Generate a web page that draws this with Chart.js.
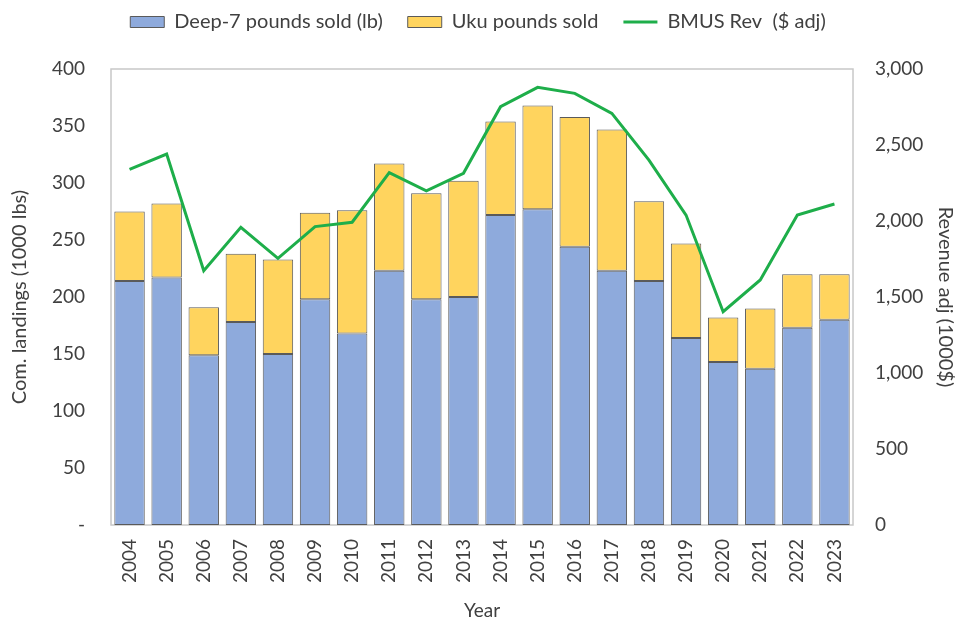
<!DOCTYPE html>
<html>
<head>
<meta charset="utf-8">
<script src="https://cdn.jsdelivr.net/npm/chart.js@4.4.1/dist/chart.umd.min.js"></script>
<style>
  html, body { margin: 0; padding: 0; background: #fff; }
  #wrap { width: 956px; height: 620px; }
</style>
</head>
<body>
<div id="wrap"><canvas id="chart" width="956" height="620"></canvas></div>
<script>
const years = ['2004', '2005', '2006', '2007', '2008', '2009', '2010', '2011', '2012', '2013',
    '2014', '2015', '2016', '2017', '2018', '2019', '2020', '2021', '2022', '2023'];
const deep7Sold = [214, 217, 149, 178, 150, 198, 168, 223, 198, 200, 272, 277, 244, 223, 214, 164, 143, 137, 173, 180];
const ukuSold = [61, 65, 42, 60, 83, 76, 108, 94, 93, 102, 82, 91, 114, 124, 70, 83, 39, 53, 47, 40];
const bmusRev = [2340, 2440, 1673, 1958, 1754, 1963, 1992, 2318, 2199, 2314, 2752, 2879, 2840, 2708, 2401, 2039, 1403, 1612, 2039, 2112];
const leftTicks = [0, 50, 100, 150, 200, 250, 300, 350, 400];
const rightTicks = [0, 500, 1000, 1500, 2000, 2500, 3000];

const txt = '#404040';
const font = 'Lato';

// frame round the plot area, fixed legend height, legend nudged up
const framePlugin = {
    id: 'frame',
    beforeLayout(chart) {
        const lg = chart.legend;
        if (lg && !lg._patched) {
            const fit = lg.fit;
            lg.fit = function () {
                fit.call(this);
                this.height = 69;
            };
            const draw = lg.draw;
            lg.draw = function () {
                this.ctx.save();
                this.ctx.translate(0, -13);
                draw.call(this);
                this.ctx.restore();
            };
            lg._patched = true;
        }
    },
    beforeDatasetsDraw(chart) {
        const a = chart.chartArea;
        const c = chart.ctx;
        c.save();
        c.strokeStyle = '#c8c8c8';
        c.lineWidth = 1.5;
        c.strokeRect(a.left, a.top, a.right - a.left, a.bottom - a.top);
        c.restore();
    }
};

const ctx = document.getElementById('chart').getContext('2d');
new Chart(ctx, {
    type: 'bar',
    data: {
        labels: years,
        datasets: [{
            label: 'Deep-7 pounds sold (lb)',
            data: deep7Sold,
            backgroundColor: '#8eaadc',
            borderColor: '#5a5a5a',
            borderWidth: 1,
            borderSkipped: false,
            pointStyle: 'rect',
            stack: 'lbs',
            yAxisID: 'y'
        }, {
            label: 'Uku pounds sold',
            data: ukuSold,
            backgroundColor: '#ffd45e',
            borderColor: '#5a5a5a',
            borderWidth: 1,
            borderSkipped: false,
            pointStyle: 'rect',
            stack: 'lbs',
            yAxisID: 'y'
        }, {
            type: 'line',
            label: 'BMUS Rev  ($ adj)',
            data: bmusRev,
            borderColor: '#1eae4a',
            backgroundColor: '#1eae4a',
            borderWidth: 3,
            pointRadius: 0,
            pointStyle: 'line',
            tension: 0,
            order: -1,
            yAxisID: 'y1'
        }]
    },
    options: {
        responsive: false,
        animation: false,
        layout: { padding: 0 },
        datasets: {
            bar: { barPercentage: 0.82, categoryPercentage: 1.0 }
        },
        plugins: {
            legend: {
                position: 'top',
                labels: {
                    color: txt,
                    font: { family: font, size: 20 },
                    usePointStyle: true,
                    pointStyleWidth: 34,
                    boxHeight: 11,
                    padding: 25,
                    sort: (a, b) => a.datasetIndex - b.datasetIndex
                }
            },
            tooltip: { enabled: false }
        },
        scales: {
            x: {
                stacked: true,
                grid: { display: false, drawTicks: false },
                border: { display: false },
                ticks: {
                    color: txt,
                    font: { family: font, size: 19 },
                    minRotation: 90,
                    maxRotation: 90,
                    padding: 14,
                    autoSkip: false
                },
                title: {
                    display: true,
                    text: 'Year',
                    color: txt,
                    font: { family: font, size: 19, lineHeight: 1 },
                    padding: { top: 0, bottom: 0 }
                },
                afterFit: s => { s.height = 95; }
            },
            y: {
                stacked: true,
                position: 'left',
                min: 0,
                max: 400,
                afterBuildTicks: s => { s.ticks = leftTicks.map(v => ({ value: v })); },
                grid: { display: false, drawTicks: false },
                border: { display: false },
                ticks: {
                    color: txt,
                    font: { family: font, size: 19 },
                    padding: 26,
                    callback: v => v === 0 ? '-' : v
                },
                title: {
                    display: true,
                    text: 'Com. landings (1000 lbs)',
                    color: txt,
                    font: { family: font, size: 20, lineHeight: 1 },
                    padding: { top: 10, bottom: 0 }
                },
                afterFit: s => { s.width = 111; }
            },
            y1: {
                position: 'right',
                min: 0,
                max: 3000,
                afterBuildTicks: s => { s.ticks = rightTicks.map(v => ({ value: v })); },
                grid: { display: false, drawTicks: false },
                border: { display: false },
                ticks: {
                    color: txt,
                    font: { family: font, size: 19 },
                    padding: 22,
                    callback: v => v.toLocaleString('en-US')
                },
                title: {
                    display: true,
                    text: 'Revenue adj (1000$)',
                    color: txt,
                    font: { family: font, size: 20, lineHeight: 1 },
                    padding: { top: 1, bottom: 0 }
                },
                afterFit: s => { s.width = 103; }
            }
        }
    },
    plugins: [framePlugin]
});
</script>
</body>
</html>
